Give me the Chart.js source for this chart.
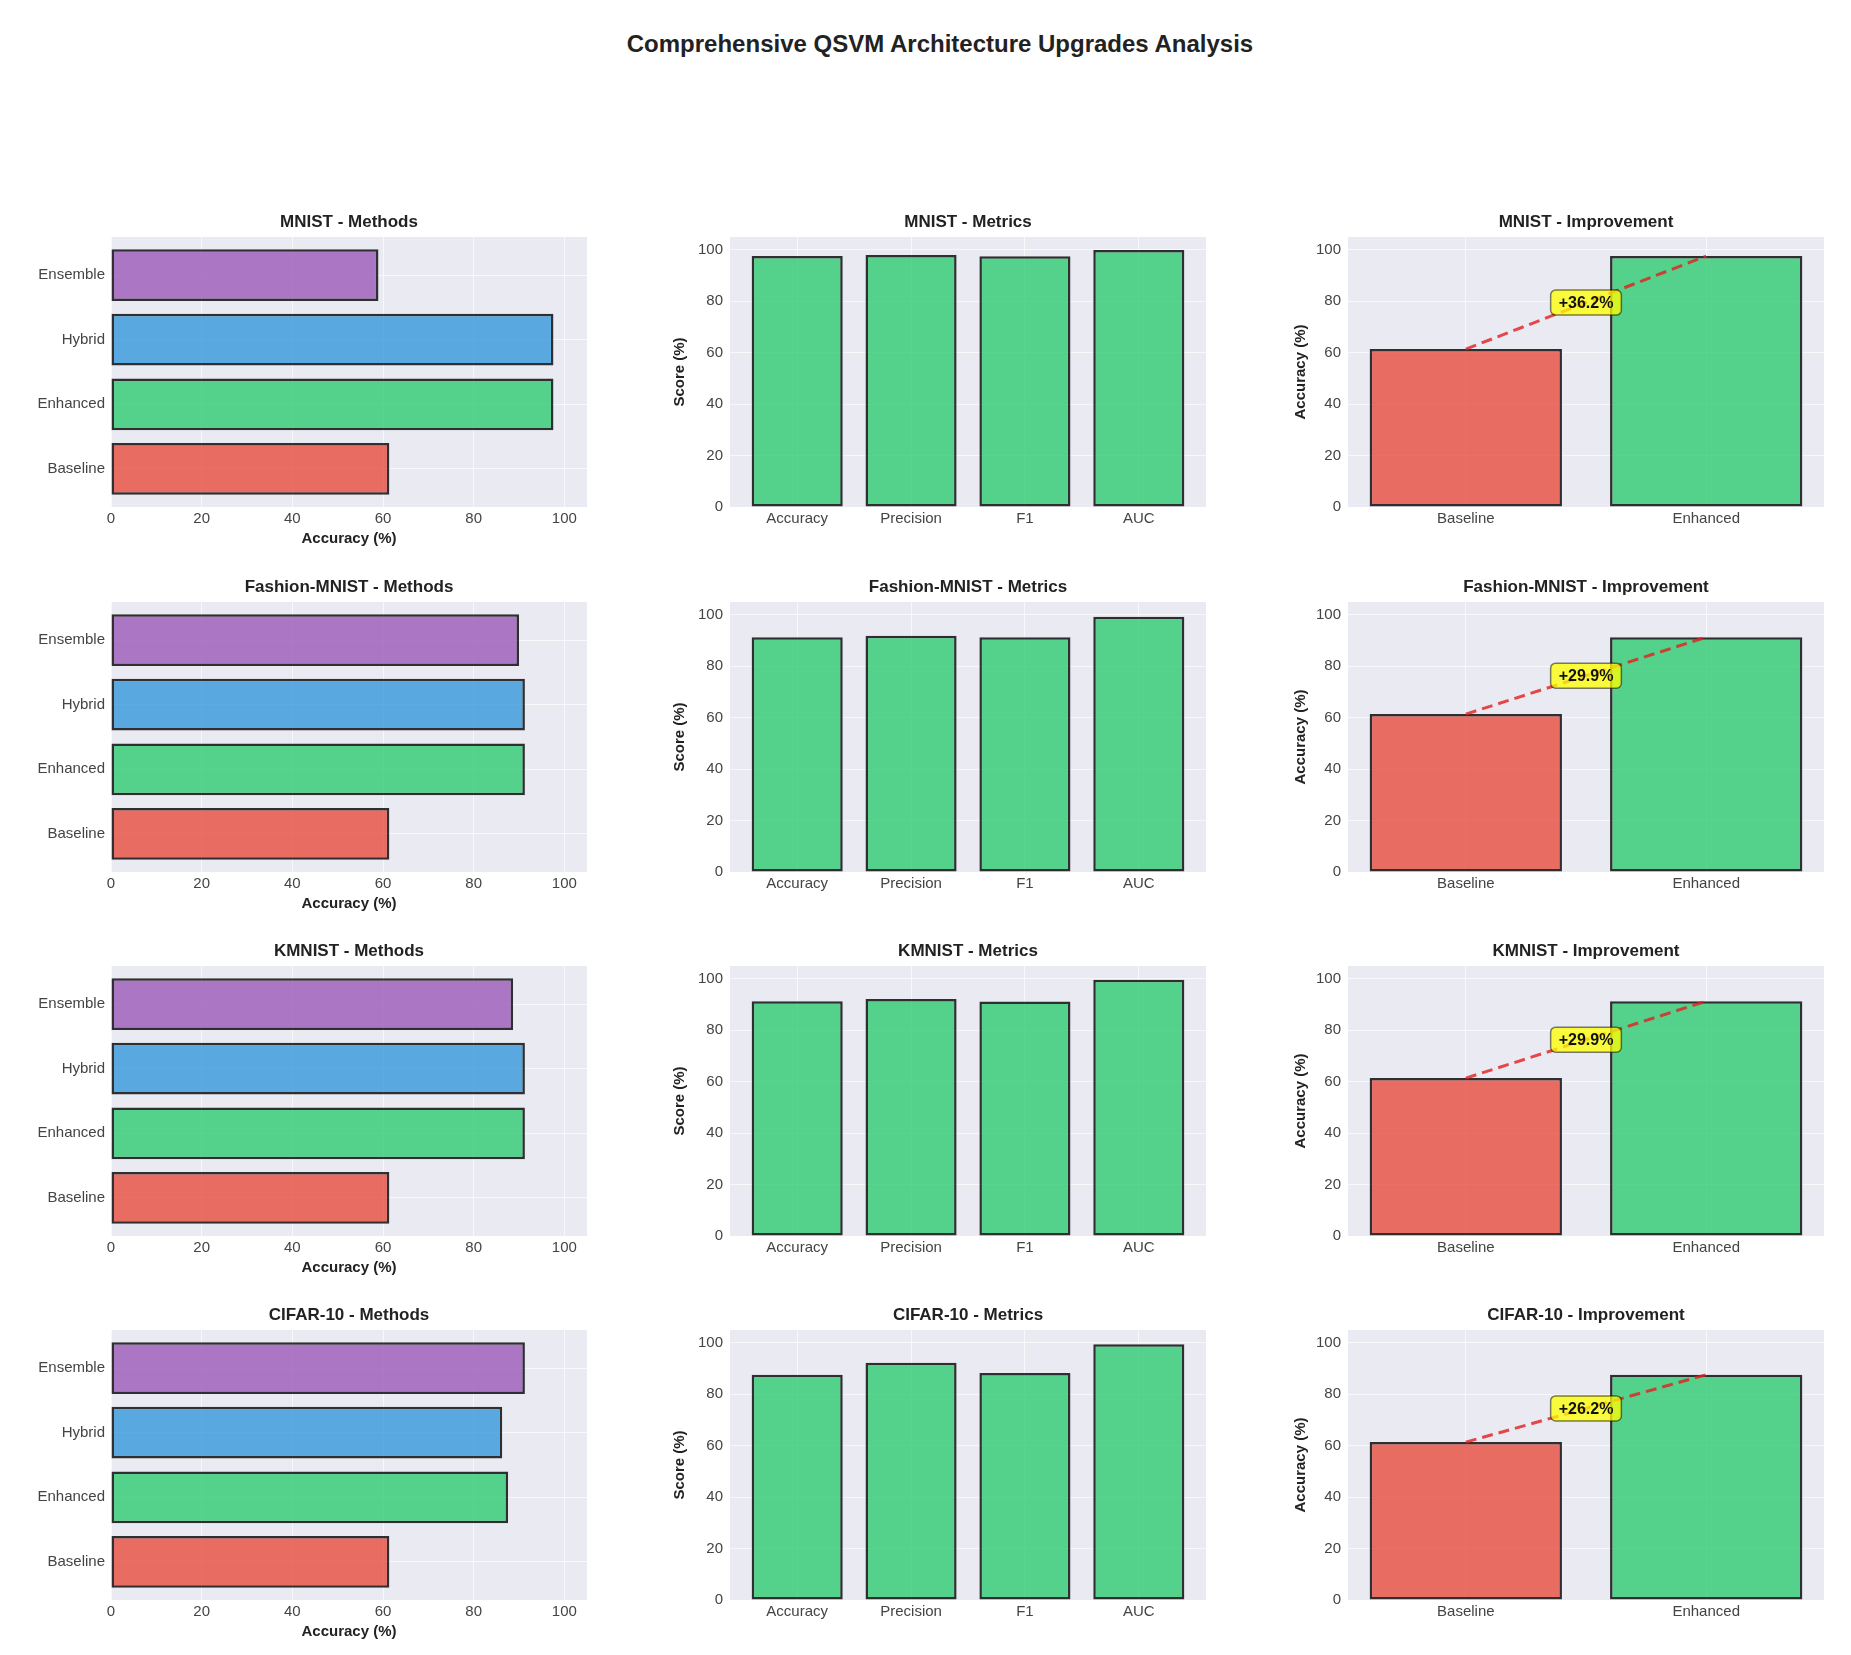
<!DOCTYPE html>
<html>
<head>
<meta charset="utf-8">
<title>Comprehensive QSVM Architecture Upgrades Analysis</title>
<script src="https://cdn.jsdelivr.net/npm/chart.js@4.4.1/dist/chart.umd.min.js"></script>
<style>
body{margin:0;background:#fff;}
#fig{position:relative;width:1851px;height:1655px;overflow:hidden;font-family:"Liberation Sans",Arial,sans-serif;}
#titulo{position:absolute;left:0;width:1880px;top:30px;line-height:28px;text-align:center;font-weight:bold;font-size:24px;color:#222;}
canvas{position:absolute;}
</style>
</head>
<body>
<div id="fig">
  <div id="titulo">Comprehensive QSVM Architecture Upgrades Analysis</div>
</div>
<script>
// datos
const nombres=['MNIST','Fashion-MNIST','KMNIST','CIFAR-10']
const metodos=['Baseline','Enhanced','Hybrid','Ensemble']
const baseline=[61.4,61.4,61.4,61.4]
const enhanced=[97.6,91.3,91.3,87.6]
const hybrid=[97.6,91.3,91.3,86.3]
const ensemble=[59.0,90.0,88.7,91.3]
const metricas=['Accuracy','Precision','F1','AUC']
const precision=[98.0,91.9,92.2,92.3]
const f1=[97.5,91.3,91.2,88.3]
const auc=[99.9,99.3,99.7,99.5]
const comparacion=['Baseline','Enhanced']

const colorMetodo={
    Baseline:'rgba(231,76,60,0.8)',
    Enhanced:'rgba(46,204,113,0.8)',
    Hybrid:'rgba(52,152,219,0.8)',
    Ensemble:'rgba(155,89,182,0.8)'
}

// posiciones de cada panel (area de dibujo)
const filas=[237,602,966,1330]
const columnas=[111,730,1348]
const anchoPlot=476
const altoPlot=270

Chart.defaults.font.family='"Liberation Sans", Arial, sans-serif'
Chart.defaults.color='#444'
Chart.defaults.animation=false

const figura=document.getElementById('fig')

function lienzo(x,y,w,h){
    const c=document.createElement('canvas')
    c.width=w
    c.height=h
    c.style.left=x+'px'
    c.style.top=y+'px'
    c.style.width=w+'px'
    c.style.height=h+'px'
    figura.appendChild(c)
    return c
}

/* pinta el fondo gris del area */
const fondo={
    id:'fondo',
    beforeDraw(chart){
        const a=chart.chartArea
        const ctx=chart.ctx
        ctx.save()
        ctx.fillStyle='#eaeaf2'
        ctx.fillRect(a.left,a.top,a.right-a.left,a.bottom-a.top)
        ctx.restore()
    }
}

/* caja amarilla con la mejora */
const etiqueta={
    id:'etiqueta',
    afterDatasetsDraw(chart,args,opts){
        if(!opts || !opts.texto) return
        const ctx=chart.ctx
        const px=chart.scales.x.getPixelForValue(opts.x)
        const py=chart.scales.y.getPixelForValue(opts.y)
        ctx.save()
        ctx.font='bold 16px "Liberation Sans", Arial, sans-serif'
        const w=ctx.measureText(opts.texto).width+16
        const h=25
        ctx.beginPath()
        ctx.roundRect(px-w/2,py-h/2,w,h,5)
        ctx.fillStyle='rgba(255,255,0,0.75)'
        ctx.fill()
        ctx.strokeStyle='rgba(0,0,0,0.5)'
        ctx.lineWidth=1.5
        ctx.stroke()
        ctx.fillStyle='#111'
        ctx.textAlign='center'
        ctx.textBaseline='middle'
        ctx.fillText(opts.texto,px,py+1)
        ctx.restore()
    }
}

const rejilla={color:'rgba(255,255,255,0.65)',lineWidth:1,drawTicks:false,offset:false}
const fuenteTick={size:15}

function titulo(texto){
    return {display:true,fullSize:false,text:texto,color:'#222',font:{size:17,weight:'bold',lineHeight:'20px'},padding:{top:7,bottom:5}}
}

function ejeValor(tituloEje,ancho,alto){
    const eje={
        type:'linear',min:0,max:105,
        ticks:{stepSize:20,includeBounds:false,font:fuenteTick,maxRotation:0},
        grid:rejilla,
        border:{display:false}
    }
    if(tituloEje) eje.title={display:true,text:tituloEje,color:'#222',font:{size:15,weight:'bold',lineHeight:'18px'},padding:{top:6,bottom:4}}
    if(ancho){eje.ticks.padding=7;eje.afterFit=(s)=>{s.width=ancho}}
    if(alto){eje.ticks.padding=3;eje.afterFit=(s)=>{s.height=alto}}
    return eje
}

function ejeCategoria(etiquetas,ancho,alto){
    const m=0.05*(etiquetas.length-1+0.8)
    const eje={
        type:'linear',min:-0.4-m,max:etiquetas.length-0.6+m,offset:false,
        ticks:{stepSize:1,includeBounds:false,font:fuenteTick,maxRotation:0,autoSkip:false,
            callback:(v)=>etiquetas[v]},
        grid:rejilla,
        border:{display:false}
    }
    if(ancho){eje.ticks.padding=6;eje.afterFit=(s)=>{s.width=ancho}}
    if(alto){eje.ticks.padding=3;eje.afterFit=(s)=>{s.height=alto}}
    return eje
}

function graficoMetodos(k,px,py){
    const L=100,R=20,T=32,B=45
    const c=lienzo(px-L,py-T,L+anchoPlot+R,T+altoPlot+B)
    const valores=[baseline[k],enhanced[k],hybrid[k],ensemble[k]]
    new Chart(c,{
        type:'bar',
        data:{datasets:[{
            data:valores.map((v,i)=>({x:v,y:i})),
            backgroundColor:metodos.map(m=>colorMetodo[m]),
            borderColor:'rgba(0,0,0,0.8)',
            borderWidth:2.5,
            borderSkipped:false,
            barPercentage:0.8,
            categoryPercentage:1
        }]},
        options:{
            responsive:false,
            indexAxis:'y',
            layout:{padding:{left:0,top:0,right:R,bottom:0}},
            plugins:{legend:{display:false},tooltip:{enabled:false},title:titulo(nombres[k]+' - Methods')},
            scales:{
                x:ejeValor('Accuracy (%)',null,B),
                y:ejeCategoria(metodos,L,null)
            }
        },
        plugins:[fondo]
    })
}

function graficoMetricas(k,px,py){
    const L=65,R=20,T=32,B=30
    const c=lienzo(px-L,py-T,L+anchoPlot+R,T+altoPlot+B)
    const valores=[enhanced[k],precision[k],f1[k],auc[k]]
    new Chart(c,{
        type:'bar',
        data:{datasets:[{
            data:valores.map((v,i)=>({x:i,y:v})),
            backgroundColor:colorMetodo.Enhanced,
            borderColor:'rgba(0,0,0,0.8)',
            borderWidth:2.5,
            borderSkipped:false,
            barPercentage:0.8,
            categoryPercentage:1
        }]},
        options:{
            responsive:false,
            layout:{padding:{left:0,top:0,right:R,bottom:0}},
            plugins:{legend:{display:false},tooltip:{enabled:false},title:titulo(nombres[k]+' - Metrics')},
            scales:{
                x:ejeCategoria(metricas,null,B),
                y:ejeValor('Score (%)',L,null)
            }
        },
        plugins:[fondo]
    })
}

function graficoMejora(k,px,py){
    const L=62,R=20,T=32,B=30
    const c=lienzo(px-L,py-T,L+anchoPlot+R,T+altoPlot+B)
    const valores=[baseline[k],enhanced[k]]
    const mejora=enhanced[k]-baseline[k]
    new Chart(c,{
        type:'bar',
        data:{datasets:[
            {
                type:'line',
                order:0,
                data:valores.map((v,i)=>({x:i,y:v})),
                borderColor:'rgba(228,30,30,0.8)',
                borderWidth:3,
                borderDash:[11,6],
                pointRadius:0,
                fill:false,
                tension:0
            },
            {
                order:1,
                data:valores.map((v,i)=>({x:i,y:v})),
                backgroundColor:comparacion.map(m=>colorMetodo[m]),
                borderColor:'rgba(0,0,0,0.8)',
                borderWidth:2.5,
                borderSkipped:false,
                barPercentage:0.8,
                categoryPercentage:1
            }
        ]},
        options:{
            responsive:false,
            layout:{padding:{left:0,top:0,right:R,bottom:0}},
            plugins:{
                legend:{display:false},
                tooltip:{enabled:false},
                title:titulo(nombres[k]+' - Improvement'),
                etiqueta:{texto:'+'+mejora.toFixed(1)+'%',x:0.5,y:(valores[0]+valores[1])/2}
            },
            scales:{
                x:ejeCategoria(comparacion,null,B),
                y:ejeValor('Accuracy (%)',L,null)
            }
        },
        plugins:[fondo,etiqueta]
    })
}

for(let k=0;k<nombres.length;k++){
    graficoMetodos(k,columnas[0],filas[k])
    graficoMetricas(k,columnas[1],filas[k])
    graficoMejora(k,columnas[2],filas[k])
}
</script>
</body>
</html>
